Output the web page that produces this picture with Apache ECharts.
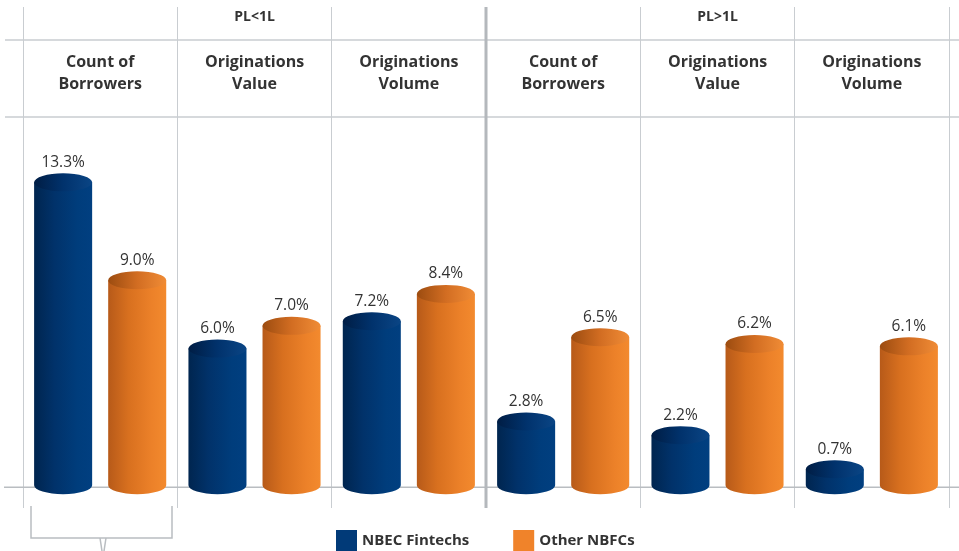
<!DOCTYPE html>
<html>
<head>
<meta charset="utf-8">
<script src="https://cdn.jsdelivr.net/npm/echarts@6/dist/echarts.min.js"></script>
<style>html,body{margin:0;padding:0;background:#fff;}#chart{width:959px;height:551px;}</style>
</head>
<body>
<div id="chart"></div>
<script>
var categories = ['Count of\nBorrowers', 'Originations\nValue', 'Originations\nVolume', 'Count of\nBorrowers', 'Originations\nValue', 'Originations\nVolume'];
var groupLabels = ['PL<1L', 'PL>1L'];
var groupCenterIndex = [1, 4];
var seriesNames = ['NBEC Fintechs', 'Other NBFCs'];
var fintechValues = [13.3, 6.0, 7.2, 2.8, 2.2, 0.7];
var otherValues = [9.0, 7.0, 8.4, 6.5, 6.2, 6.1];

var FONT = '"Open Sans", "Noto Sans", sans-serif';
var styles = [
  {
    legend: '#013a78',
    body: [['#00254f', 0], ['#01326a', 0.35], ['#003d7c', 0.75], ['#013f80', 1]],
    top: [['#001d44', 0], ['#01326c', 0.5], ['#0a4585', 1]]
  },
  {
    legend: '#f0832a',
    body: [['#b75a19', 0], ['#d8701f', 0.35], ['#ec8129', 0.75], ['#f38a2e', 1]],
    top: [['#9c4c10', 0], ['#d26d22', 0.5], ['#f08c36', 1]]
  }
];

function grad(stops) {
  return new echarts.graphic.LinearGradient(0, 0, 1, 0, stops.map(function (s) { return { offset: s[1], color: s[0] }; }));
}

function makeRender(si) {
  var st = styles[si];
  var sign = si === 0 ? -1 : 1;
  return function (params, api) {
    var idx = api.value(0), v = api.value(1);
    var band = api.size([1, 0])[0];
    var topPt = api.coord([idx, v]);
    var basePt = api.coord([idx, 0]);
    var cx = topPt[0] + sign * band * 0.24;
    var rx = band * 0.376 / 2, ry = 9;
    var yt = topPt[1], yb = basePt[1];
    var l = cx - rx, r = cx + rx;
    var bodyPath = 'M' + l + ' ' + yt + ' L' + l + ' ' + yb +
      ' A' + rx + ' ' + ry + ' 0 0 0 ' + r + ' ' + yb +
      ' L' + r + ' ' + yt + ' Z';
    var topPath = 'M' + l + ' ' + yt +
      ' A' + rx + ' ' + ry + ' 0 1 0 ' + r + ' ' + yt +
      ' A' + rx + ' ' + ry + ' 0 1 0 ' + l + ' ' + yt + ' Z';
    return {
      type: 'group',
      children: [
        { type: 'path', shape: { pathData: bodyPath }, style: { fill: grad(st.body) } },
        { type: 'path', shape: { pathData: topPath }, style: { fill: grad(st.top) } },
        {
          type: 'text',
          style: {
            text: v.toFixed(1) + '%', x: cx, y: yt - ry - 11,
            align: 'center', verticalAlign: 'middle', textAlign: 'center', textVerticalAlign: 'middle',
            font: '15.5px ' + FONT, fill: '#333'
          }
        }
      ]
    };
  };
}

var chart = echarts.init(document.getElementById('chart'));
var option = {
  backgroundColor: '#fff',
  animation: false,
  grid: { left: 23, right: 10, top: 7, bottom: 43 },
  legend: {
    data: seriesNames,
    left: 336, top: 530, padding: 0,
    icon: 'rect', itemWidth: 21, itemHeight: 21, itemGap: 44,
    textStyle: { fontFamily: FONT, fontWeight: 'bold', fontSize: 15, color: '#333' }
  },
  xAxis: {
    type: 'category',
    data: categories,
    position: 'top',
    axisLine: { show: false },
    axisTick: { show: false },
    splitLine: { show: true, interval: 0, lineStyle: { color: '#c9cdd1', width: 1 } },
    axisLabel: {
      inside: true, margin: 44, interval: 0,
      fontFamily: FONT, fontWeight: 'bold', fontSize: 16, color: '#333', lineHeight: 22
    }
  },
  yAxis: { type: 'value', min: -1, max: 21, show: false, splitLine: { show: false } },
  series: [fintechValues, otherValues].map(function (vals, si) {
    return {
      name: seriesNames[si],
      type: 'custom',
      itemStyle: { color: styles[si].legend },
      encode: { x: 0, y: 1 },
      data: vals.map(function (v, i) { return [i, v]; }),
      renderItem: makeRender(si),
      z: 3
    };
  })
};
chart.setOption(option);

var y0 = chart.convertToPixel({ yAxisIndex: 0 }, 0);
var midX = (chart.convertToPixel({ xAxisIndex: 0 }, 2) + chart.convertToPixel({ xAxisIndex: 0 }, 3)) / 2;
var lineCol = '#c9cdd1';
var graphics = [
  { type: 'line', shape: { x1: 5, y1: 40, x2: 959, y2: 40 }, style: { stroke: lineCol, lineWidth: 1.5 }, z: 0 },
  { type: 'line', shape: { x1: 5, y1: 117, x2: 959, y2: 117 }, style: { stroke: lineCol, lineWidth: 1.5 }, z: 0 },
  { type: 'line', shape: { x1: 4, y1: y0 + 2, x2: 959, y2: y0 + 2 }, style: { stroke: '#b9bdc1', lineWidth: 1.5 }, z: 0 },
  { type: 'line', shape: { x1: midX, y1: 7, x2: midX, y2: 508 }, style: { stroke: '#b4b8bc', lineWidth: 3 }, z: 1 },
  { type: 'polyline', shape: { points: [[31, 506], [31, 538], [172, 538], [172, 506]] }, style: { stroke: '#b9bdc1', lineWidth: 1.5, fill: null } },
  { type: 'polyline', shape: { points: [[100, 538], [102, 551]] }, style: { stroke: '#b9bdc1', lineWidth: 1.5, fill: null } },
  { type: 'polyline', shape: { points: [[106, 538], [104, 551]] }, style: { stroke: '#b9bdc1', lineWidth: 1.5, fill: null } }
];
groupLabels.forEach(function (g, i) {
  var gx = chart.convertToPixel({ xAxisIndex: 0 }, groupCenterIndex[i]);
  graphics.push({
    type: 'text', x: gx, y: 17,
    style: { text: g, align: 'center', verticalAlign: 'middle', textAlign: 'center', textVerticalAlign: 'middle', font: 'bold 14px ' + FONT, fill: '#333' }
  });
});
chart.setOption({ graphic: graphics });
</script>
</body>
</html>
